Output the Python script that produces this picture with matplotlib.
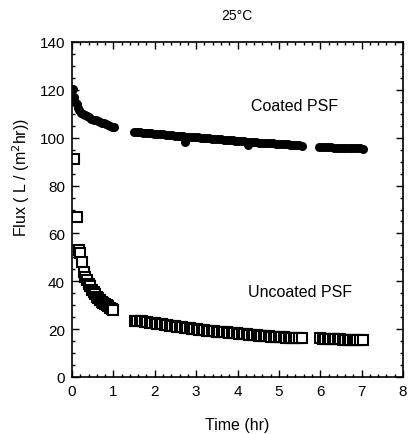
import matplotlib
matplotlib.use("Agg")
import matplotlib.pyplot as plt
from matplotlib.ticker import MultipleLocator

plt.rcParams['font.family'] = ['Liberation Sans', 'DejaVu Sans']

# Coated PSF (filled circles)
coated_time = [
    0.02, 0.05, 0.08, 0.11, 0.14, 0.18, 0.22, 0.27, 0.32, 0.37,
    0.42, 0.47, 0.52, 0.57, 0.62, 0.67, 0.72, 0.77, 0.82, 0.87,
    0.92, 0.97, 1.02,
    1.50, 1.57, 1.64, 1.71, 1.78, 1.85, 1.92, 1.99, 2.06, 2.13,
    2.20, 2.27, 2.34, 2.41, 2.48, 2.55, 2.62, 2.69, 2.72, 2.76,
    2.83, 2.90, 2.97, 3.04, 3.11, 3.18, 3.25, 3.32, 3.39, 3.46,
    3.53, 3.60, 3.67, 3.74, 3.81, 3.88, 3.95, 4.02, 4.09, 4.16,
    4.23, 4.26, 4.30, 4.37, 4.44, 4.51, 4.58, 4.65, 4.72, 4.79,
    4.86, 4.93, 5.00, 5.07, 5.14, 5.21, 5.28, 5.35, 5.42, 5.49,
    5.56,
    5.98, 6.05, 6.12, 6.19, 6.26, 6.33, 6.40, 6.47, 6.54, 6.61,
    6.68, 6.75, 6.82, 6.89, 6.96, 7.03,
]
coated_flux = [
    120.5, 117.0, 115.0, 114.0, 112.5, 111.5, 110.5, 110.0, 109.5, 109.0,
    108.5, 108.0, 107.5, 107.2, 107.0, 106.6, 106.3, 106.0, 105.7, 105.3,
    105.0, 104.6, 104.3,
    102.5, 102.3, 102.2, 102.1, 102.0, 101.9, 101.8, 101.7, 101.6, 101.5,
    101.4, 101.2, 101.1, 101.0, 100.9, 100.8, 100.7, 100.6, 98.3, 100.5,
    100.4, 100.3, 100.2, 100.1, 100.0, 99.9, 99.8, 99.7, 99.6, 99.5,
    99.4, 99.3, 99.2, 99.1, 99.0, 98.9, 98.8, 98.7, 98.6, 98.5,
    98.4, 97.0, 98.3, 98.2, 98.1, 98.0, 97.9, 97.8, 97.7, 97.7,
    97.6, 97.5, 97.4, 97.3, 97.3, 97.2, 97.1, 97.0, 96.9, 96.8,
    96.7,
    96.3, 96.3, 96.2, 96.1, 96.0, 95.9, 95.9, 95.8, 95.8, 95.7,
    95.7, 95.6, 95.6, 95.5, 95.5, 95.4,
]

# Uncoated PSF (open squares)
uncoated_time = [
    0.06, 0.12, 0.17, 0.20, 0.24, 0.28, 0.32, 0.36, 0.40, 0.44,
    0.48, 0.52, 0.56, 0.60, 0.64, 0.68, 0.72, 0.76, 0.80, 0.84,
    0.88, 0.92, 0.96, 1.00,
    1.52, 1.58, 1.64, 1.70, 1.76, 1.82, 1.88, 1.94, 2.00, 2.06,
    2.12, 2.18, 2.24, 2.30, 2.36, 2.42, 2.48, 2.54, 2.60, 2.66,
    2.72, 2.78, 2.84, 2.90, 2.96, 3.02, 3.08, 3.14, 3.20, 3.26,
    3.32, 3.38, 3.44, 3.50, 3.56, 3.62, 3.68, 3.74, 3.80, 3.86,
    3.92, 3.98, 4.04, 4.10, 4.16, 4.22, 4.28, 4.34, 4.40, 4.46,
    4.52, 4.58, 4.64, 4.70, 4.76, 4.82, 4.88, 4.94, 5.00, 5.06,
    5.12, 5.18, 5.24, 5.30, 5.36, 5.42, 5.48, 5.56,
    6.00, 6.06, 6.12, 6.18, 6.24, 6.30, 6.36, 6.42, 6.48, 6.54,
    6.60, 6.66, 6.72, 6.78, 6.84, 6.90, 6.96, 7.03,
]
uncoated_flux = [
    91.0, 67.0, 53.0, 52.0, 48.0, 44.0, 42.0, 40.5, 39.0, 38.0,
    36.5, 35.5, 34.5, 33.5, 33.0, 32.0, 31.5, 31.0, 30.5, 30.0,
    29.5, 29.0, 28.5, 28.0,
    23.6, 23.5, 23.3, 23.2, 23.0, 22.9, 22.7, 22.6, 22.4, 22.3,
    22.1, 22.0, 21.8, 21.7, 21.5, 21.4, 21.2, 21.1, 20.9, 20.8,
    20.6, 20.5, 20.3, 20.2, 20.0, 19.9, 19.8, 19.7, 19.5, 19.4,
    19.3, 19.2, 19.1, 19.0, 18.9, 18.8, 18.7, 18.6, 18.5, 18.4,
    18.3, 18.2, 18.1, 18.0, 17.9, 17.8, 17.7, 17.6, 17.5, 17.4,
    17.3, 17.2, 17.2, 17.1, 17.0, 16.9, 16.9, 16.8, 16.7, 16.7,
    16.6, 16.5, 16.5, 16.4, 16.4, 16.3, 16.3, 16.2,
    16.1, 16.0, 16.0, 15.9, 15.9, 15.8, 15.8, 15.7, 15.7, 15.6,
    15.6, 15.5, 15.5, 15.5, 15.4, 15.4, 15.3, 15.3,
]

title = "25°C"
x_label = "Time (hr)"
y_label = "Flux ( L / (m$^2$hr))"
coated_label = "Coated PSF"
uncoated_label = "Uncoated PSF"

W, H = 412, 435
fig = plt.figure(figsize=(W / 100, H / 100), dpi=100)
ax = fig.add_axes([72 / W, 1 - 378 / H, (403 - 72) / W, (378 - 43) / H])

ax.plot(coated_time, coated_flux, 'o', color='black', ms=6.5, mew=0)
ax.plot(uncoated_time, uncoated_flux, 's', mfc='white', mec='black',
        ms=6.8, mew=1.5)

ax.set_xlim(0, 8)
ax.set_ylim(0, 140)
ax.xaxis.set_major_locator(MultipleLocator(1))
ax.xaxis.set_minor_locator(MultipleLocator(0.2))
ax.yaxis.set_major_locator(MultipleLocator(20))
ax.yaxis.set_minor_locator(MultipleLocator(5))
ax.tick_params(which='both', direction='in', top=True, right=True,
               labelsize=11, width=1)
ax.tick_params(which='major', length=5, pad=5)
ax.tick_params(which='minor', length=2.5)
for s in ax.spines.values():
    s.set_linewidth(1.2)

ax.text(5.37, 113.4, coated_label, ha='center', va='center', fontsize=11.5)
ax.text(5.5, 35.6, uncoated_label, ha='center', va='center', fontsize=11.5)

fig.text(237 / W, 1 - 16 / H, title, ha='center', va='center', fontsize=10)
fig.text(237 / W, 1 - 426 / H, x_label, ha='center', va='center', fontsize=11.5)
fig.text(21 / W, 1 - 178 / H, y_label, ha='center', va='center',
         rotation=90, fontsize=11.5)

fig.savefig("out.png", dpi=100)
